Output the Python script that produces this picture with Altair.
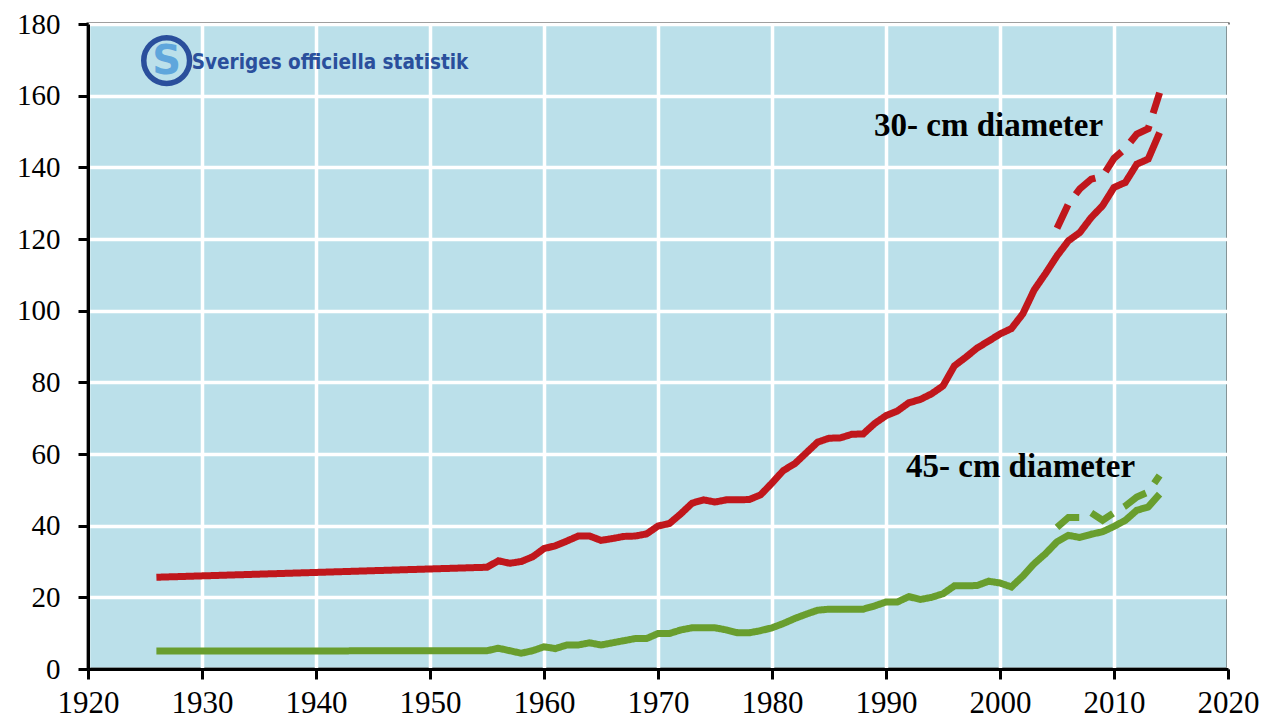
import altair as alt
import pandas as pd

# ---- data ----
red_years = [1926, 1955, 1956, 1957, 1958, 1959, 1960, 1961, 1962, 1963, 1964, 1965, 1966, 1967,
             1968, 1969, 1970, 1971, 1972, 1973, 1974, 1975, 1976, 1977, 1978, 1979, 1980, 1981,
             1982, 1983, 1984, 1985, 1986, 1987, 1988, 1989, 1990, 1991, 1992, 1993, 1994, 1995,
             1996, 1997, 1998, 1999, 2000, 2001, 2002, 2003, 2004, 2005, 2006, 2007, 2008, 2009,
             2010, 2011, 2012, 2013, 2014]
red_values = [25.6, 28.4, 30.2, 29.5, 30.0, 31.3, 33.6, 34.4, 35.7, 37.1, 37.1, 35.9, 36.4, 37.0,
              37.1, 37.7, 39.9, 40.6, 43.3, 46.3, 47.2, 46.6, 47.2, 47.2, 47.3, 48.6, 51.9, 55.4,
              57.3, 60.3, 63.3, 64.4, 64.5, 65.5, 65.6, 68.5, 70.7, 72.0, 74.3, 75.2, 76.8, 79.0,
              84.6, 87.0, 89.6, 91.5, 93.5, 95.0, 99.1, 105.8, 110.4, 115.3, 119.5, 121.8, 126.0, 129.3,
              134.4, 135.8, 140.9, 142.3, 149.7]

red_dash_years = [2005, 2006, 2007, 2008, 2009, 2010, 2011, 2012, 2013, 2014]
red_dash_values = [123.0, 129.8, 134.0, 136.7, 137.5, 142.5, 145.3, 149.3, 150.8, 160.8]

green_years = red_years
green_values = [5.0, 5.1, 5.8, 5.1, 4.4, 5.1, 6.2, 5.7, 6.7, 6.7, 7.3, 6.7, 7.3, 7.9,
                8.5, 8.5, 9.9, 9.9, 10.9, 11.5, 11.5, 11.5, 10.9, 10.1, 10.1, 10.7, 11.5, 12.7,
                14.1, 15.3, 16.4, 16.7, 16.7, 16.7, 16.7, 17.6, 18.7, 18.7, 20.2, 19.4, 20.0, 21.0,
                23.2, 23.2, 23.3, 24.5, 24.0, 22.9, 25.9, 29.4, 32.2, 35.5, 37.3, 36.7, 37.6, 38.3,
                39.8, 41.5, 44.3, 45.2, 48.8]

green_dash_years = [2005, 2006, 2007, 2008, 2009, 2010, 2011, 2012, 2013, 2014]
green_dash_values = [39.5, 42.3, 42.3, 43.6, 41.5, 43.6, 45.5, 48.0, 49.4, 54.0]

label_texts = ["30- cm diameter", "45- cm diameter"]
label_years = [1999.0, 2001.8]
label_values = [148.8, 53.5]

logo_text = "Sveriges officiella statistik"

x_ticks = list(range(1920, 2021, 10))
y_ticks = list(range(0, 181, 20))

RED = "#C0171C"
GREEN = "#699E2E"
BG = "#BBE0EA"
LOGO_BLUE = "#2A4F9C"
LOGO_LIGHT = "#5FA6DC"
SERIF = "Liberation Serif"

# ---- build tables ----
def frame(years, values, series):
    return pd.DataFrame({"year": years, "value": values, "series": series})

lines = pd.concat([
    frame(red_years, red_values, "r_solid"),
    frame(red_dash_years, red_dash_values, "r_dash"),
    frame(green_years, green_values, "g_solid"),
    frame(green_dash_years, green_dash_values, "g_dash"),
])

x_scale = alt.Scale(domain=[1920, 2020], nice=False, zero=False)
y_scale = alt.Scale(domain=[0, 180], nice=False)

axis_common = dict(labelFont=SERIF, labelColor="black", labelFlush=False,
                   domainColor="black", domainWidth=3, tickColor="black", tickWidth=3,
                   tickSize=10, gridColor="white", gridWidth=3.5, gridOpacity=1, title=None)

x_enc = alt.X("year:Q", scale=x_scale,
              axis=alt.Axis(values=x_ticks, format="d", labelPadding=9, labelFontSize=31,
                            **axis_common))
y_enc = alt.Y("value:Q", scale=y_scale,
              axis=alt.Axis(values=y_ticks, labelPadding=18, labelFontSize=29, **axis_common))

line_layer = alt.Chart(lines).mark_line(strokeWidth=7, strokeCap="butt", strokeJoin="miter").encode(
    x=x_enc,
    y=y_enc,
    color=alt.Color("series:N", legend=None,
                    scale=alt.Scale(domain=["r_solid", "r_dash", "g_solid", "g_dash"],
                                    range=[RED, RED, GREEN, GREEN])),
    strokeDash=alt.StrokeDash("series:N", legend=None,
                              scale=alt.Scale(domain=["r_solid", "r_dash", "g_solid", "g_dash"],
                                              range=[[1, 0], [26, 13], [1, 0], [26, 13]])),
    detail="series:N",
)

labels = pd.DataFrame({"year": label_years, "value": label_values, "text": label_texts})
label_layer = alt.Chart(labels).mark_text(
    font=SERIF, fontSize=33, fontWeight="bold", color="black",
    align="center", baseline="alphabetic"
).encode(x="year:Q", y="value:Q", text="text:N")

logo_pos = pd.DataFrame({"year": [1926.9], "value": [169.8]})
logo_ring = alt.Chart(logo_pos).mark_point(
    shape="circle", filled=False, size=2100, stroke=LOGO_BLUE, strokeWidth=5.5, opacity=1
).encode(x="year:Q", y="value:Q")
logo_s = alt.Chart(logo_pos).mark_text(
    text="S", font="DejaVu Sans", fontSize=40, fontWeight="bold", color=LOGO_LIGHT,
    align="center", baseline="middle", dy=1
).encode(x="year:Q", y="value:Q")

logo_txt = pd.DataFrame({"year": [1929.1], "value": [167.4], "text": [logo_text]})
logo_text_layer = alt.Chart(logo_txt).mark_text(
    font="DejaVu Sans Condensed", fontSize=20.5, fontWeight="bold", color=LOGO_BLUE,
    align="left", baseline="alphabetic"
).encode(x="year:Q", y="value:Q", text="text:N")

chart = alt.layer(line_layer, label_layer, logo_ring, logo_s, logo_text_layer).properties(
    width=1140, height=645,
    autosize=alt.AutoSizeParams(type="none"),
    padding={"left": 80, "top": 16, "right": 32, "bottom": 53},
    background="white",
).configure(
    font=SERIF,
).configure_view(
    fill=BG, stroke="black", strokeWidth=3
)

chart.save("out.html", embed_options={"renderer": "svg", "actions": False})
